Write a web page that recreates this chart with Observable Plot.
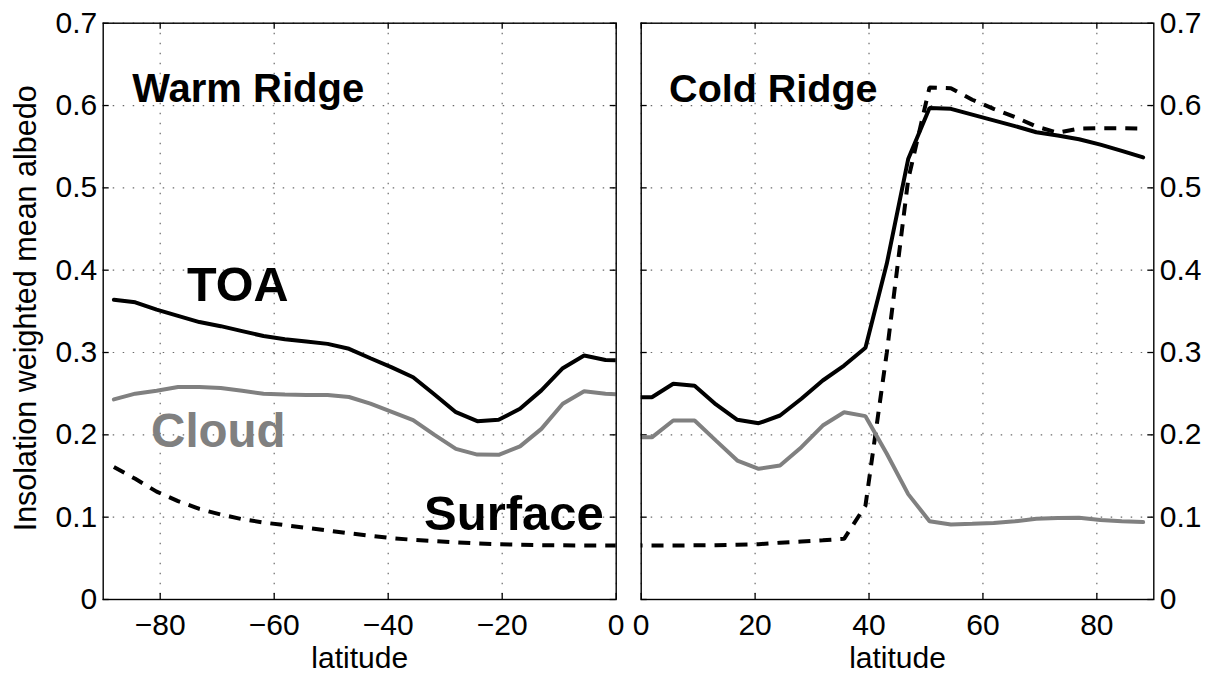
<!DOCTYPE html>
<html><head><meta charset="utf-8">
<script src="https://cdn.jsdelivr.net/npm/d3@7"></script>
<script src="https://cdn.jsdelivr.net/npm/@observablehq/plot@0.6"></script>
<style>
body{margin:0;background:#fff;}
#wrap{position:relative;width:1211px;height:675px;overflow:hidden;background:#fff;}
#left,#right{position:absolute;top:0;}
#left{left:0px}
#right{left:628px}
</style></head><body>
<div id="wrap"><div id="left"></div><div id="right"></div></div>
<script>
// ---- Data ----
const latSouth = [-88.125, -84.375, -80.625, -76.875, -73.125, -69.375, -65.625, -61.875, -58.125, -54.375, -50.625, -46.875, -43.125, -39.375, -35.625, -31.875, -28.125, -24.375, -20.625, -16.875, -13.125, -9.375, -5.625, -1.875, 1.875];
const warmTOA = [0.364, 0.361, 0.352, 0.3445, 0.337, 0.332, 0.326, 0.320, 0.316, 0.3134, 0.3105, 0.3045, 0.293, 0.282, 0.270, 0.249, 0.2275, 0.2166, 0.2183, 0.2316, 0.254, 0.281, 0.2964, 0.291, 0.290];
const warmCloud = [0.243, 0.250, 0.2535, 0.258, 0.258, 0.257, 0.2535, 0.250, 0.249, 0.2485, 0.2485, 0.246, 0.238, 0.228, 0.218, 0.200, 0.183, 0.176, 0.1757, 0.186, 0.2073, 0.2377, 0.253, 0.250, 0.2485];
const warmSurface = [0.161, 0.1466, 0.131, 0.1195, 0.110, 0.1032, 0.0976, 0.0935, 0.0903, 0.087, 0.0838, 0.0805, 0.0774, 0.0745, 0.0725, 0.071, 0.0695, 0.068, 0.067, 0.0665, 0.066, 0.0658, 0.0656, 0.0655, 0.0655];

const latNorth = [-1.875, 1.875, 5.625, 9.375, 13.125, 16.875, 20.625, 24.375, 28.125, 31.875, 35.625, 39.375, 43.125, 46.875, 50.625, 54.375, 58.125, 61.875, 65.625, 69.375, 73.125, 76.875, 80.625, 84.375, 88.125];
const coldTOA = [0.2457, 0.2457, 0.262, 0.2596, 0.2369, 0.2183, 0.2141, 0.2235, 0.2438, 0.266, 0.2842, 0.3057, 0.408, 0.535, 0.597, 0.596, 0.589, 0.582, 0.575, 0.5676, 0.5635, 0.559, 0.5525, 0.545, 0.537];
const coldCloud = [0.197, 0.197, 0.2174, 0.2174, 0.193, 0.1688, 0.1587, 0.1628, 0.185, 0.2113, 0.2275, 0.2227, 0.177, 0.128, 0.0951, 0.0911, 0.092, 0.093, 0.095, 0.098, 0.099, 0.0992, 0.0965, 0.095, 0.094];
const coldSurface = [0.0656, 0.0656, 0.0656, 0.0658, 0.066, 0.0665, 0.0672, 0.069, 0.0705, 0.072, 0.0737, 0.114, 0.30, 0.51, 0.622, 0.621, 0.607, 0.596, 0.586, 0.5745, 0.567, 0.572, 0.5725, 0.5725, 0.572];

const xTicksWarm = [-80, -60, -40, -20, 0];
const xTicksCold = [0, 20, 40, 60, 80];
const yTicks = [0, 0.1, 0.2, 0.3, 0.4, 0.5, 0.6, 0.7];

// ---- Drawing ----
const font = '"Liberation Sans", Arial, Helvetica, sans-serif';
const fmtX = d => d < 0 ? "\u2212" + Math.abs(d) : String(d);
const fmtY = d => d === 0 ? "0" : d.toFixed(1);
const gridStyle = {stroke: "#6a6a6a", strokeOpacity: 1, strokeWidth: 1.2, strokeDasharray: "1.5,8.5"};
const tickStyle = {stroke: "black", strokeWidth: 1.3};

function panel({lats, toa, cloud, surface, xDomain, xTicks, yAnchor, width, marginLeft, marginRight, extra}) {
  const rows = lats.map((lat, i) => ({lat, toa: toa[i], cloud: cloud[i], surface: surface[i]}));
  const fw = width - marginLeft - marginRight;
  const fh = 675 - 22.7 - 76;
  return Plot.plot({
    width, height: 675, marginLeft, marginRight, marginTop: 22.7, marginBottom: 76,
    style: {fontFamily: font, fontSize: "30px", background: "white", color: "black", overflow: "visible"},
    x: {domain: xDomain},
    y: {domain: [0, 0.7]},
    marks: [
      Plot.gridX(xTicks, gridStyle),
      Plot.gridY(yTicks, gridStyle),
      Plot.ruleX(xTicks, {x: d => d, insetTop: fh - 6, ...tickStyle}),
      Plot.ruleX(xTicks, {x: d => d, insetBottom: fh - 6, ...tickStyle}),
      Plot.ruleY(yTicks, {y: d => d, insetRight: fw - 6, ...tickStyle}),
      Plot.ruleY(yTicks, {y: d => d, insetLeft: fw - 6, ...tickStyle}),
      Plot.line(rows, {x: "lat", y: "surface", stroke: "black", strokeWidth: 4, strokeDasharray: "12,9", strokeLinecap: "butt", strokeLinejoin: "miter", clip: true}),
      Plot.line(rows, {x: "lat", y: "cloud", stroke: "#808080", strokeWidth: 4, strokeLinejoin: "miter", clip: true}),
      Plot.line(rows, {x: "lat", y: "toa", stroke: "black", strokeWidth: 4, strokeLinejoin: "miter", clip: true}),
      Plot.frame({stroke: "black", strokeWidth: 1.4}),
      Plot.axisX(xTicks, {tickSize: 0, tickPadding: 14.5, tickFormat: fmtX, fontSize: 30, label: null}),
      Plot.axisY(yTicks, {anchor: yAnchor, tickSize: 0, tickPadding: 6, tickFormat: fmtY, fontSize: 30, label: null}),
      Plot.text(["latitude"], {frameAnchor: "bottom", dy: 68, lineAnchor: "bottom", fontSize: 30}),
      ...extra
    ]
  });
}

const bold = {textAnchor: "start", lineAnchor: "bottom", fontWeight: "bold"};

document.getElementById("left").append(panel({
  lats: latSouth, toa: warmTOA, cloud: warmCloud, surface: warmSurface,
  xDomain: [-90, 0], xTicks: xTicksWarm, yAnchor: "left",
  width: 628, marginLeft: 102.7, marginRight: 12.3,
  extra: [
    Plot.text(["Insolation weighted mean albedo"], {frameAnchor: "left", textAnchor: "middle", rotate: -90, dx: -67, dy: -3, lineAnchor: "bottom", fontSize: 30.5}),
    Plot.text(["Warm Ridge"], {x: -84.9, y: 0.604, fontSize: 40, ...bold}),
    Plot.text(["TOA"], {x: -75.3, y: 0.3623, fontSize: 48.5, ...bold}),
    Plot.text(["Cloud"], {x: -81.6, y: 0.185, fontSize: 47.5, fill: "#808080", ...bold}),
    Plot.text(["Surface"], {x: -33.7, y: 0.0847, fontSize: 49, ...bold})
  ]
}));

document.getElementById("right").append(panel({
  lats: latNorth, toa: coldTOA, cloud: coldCloud, surface: coldSurface,
  xDomain: [0, 90], xTicks: xTicksCold, yAnchor: "right",
  width: 583, marginLeft: 12.7, marginRight: 57.7,
  extra: [
    Plot.text(["Cold Ridge"], {x: 4.9, y: 0.604, fontSize: 39.5, ...bold})
  ]
}));
</script>
</body></html>
